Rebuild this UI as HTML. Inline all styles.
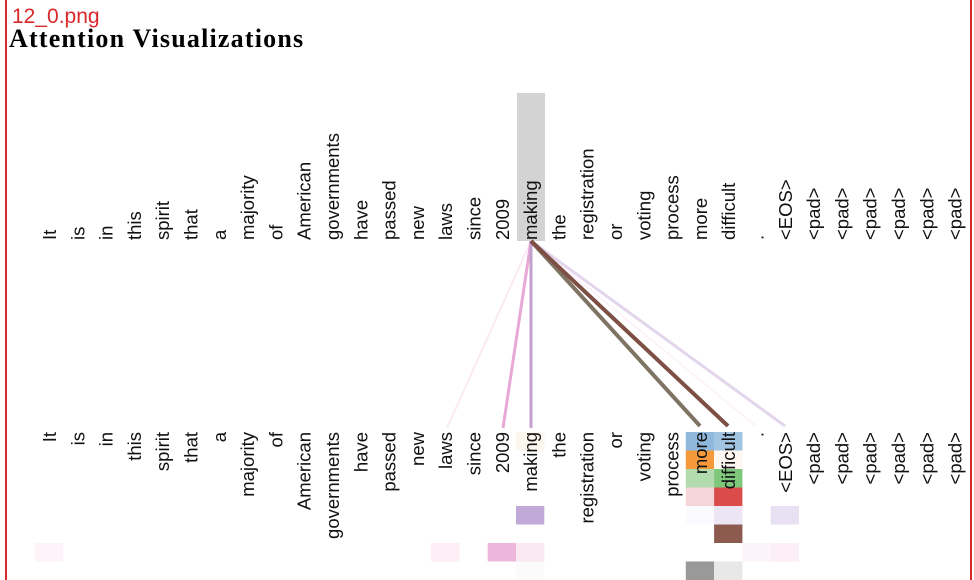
<!DOCTYPE html>
<html><head><meta charset="utf-8"><style>
html,body{margin:0;padding:0;background:#fff;width:974px;height:580px;overflow:hidden}
svg{display:block}
.t{font-family:"Liberation Sans",sans-serif;font-size:18.5px;fill:#111}
</style></head><body>
<svg width="974" height="580" viewBox="0 0 974 580">
<rect x="5" y="0" width="2" height="580" fill="#d8282a"/>
<rect x="970" y="0" width="2" height="580" fill="#d8282a"/>
<text x="12" y="23" font-family="Liberation Sans,sans-serif" font-size="21" fill="#d8282a">12_0.png</text>
<text x="9" y="47" font-family="Liberation Serif,serif" font-size="26" font-weight="bold" letter-spacing="1.2" fill="#000">Attention Visualizations</text>

<rect x="517" y="93" width="28" height="148" fill="#d3d3d3"/>

<g>
<rect x="516" y="432" width="28.3" height="18.5" fill="#fdf6ef"/>
<rect x="685.8" y="432" width="28.3" height="18.5" fill="#8fb8dc"/>
<rect x="714.1" y="432" width="28.3" height="18.5" fill="#a0c4e2"/>
<rect x="685.8" y="450.5" width="28.3" height="18.5" fill="#f5993a"/>
<rect x="714.1" y="450.5" width="28.3" height="18.5" fill="#fff8f2"/>
<rect x="685.8" y="469" width="28.3" height="18.5" fill="#b2dcae"/>
<rect x="714.1" y="469" width="28.3" height="18.5" fill="#7ec77b"/>
<rect x="685.8" y="487.5" width="28.3" height="18.5" fill="#f6d6d8"/>
<rect x="714.1" y="487.5" width="28.3" height="18.5" fill="#d94c4a"/>
<rect x="516" y="506" width="28.3" height="18.5" fill="#c1a9d8"/>
<rect x="685.8" y="506" width="28.3" height="18.5" fill="#fbfaff"/>
<rect x="714.1" y="506" width="28.3" height="18.5" fill="#ece6f4"/>
<rect x="770.7" y="506" width="28.3" height="18.5" fill="#e8e0f3"/>
<rect x="714.1" y="524.5" width="28.3" height="18.5" fill="#8c5a4e"/>
<rect x="34.9" y="543" width="28.3" height="18.5" fill="#fdf3f8"/>
<rect x="431" y="543" width="28.3" height="18.5" fill="#fceef4"/>
<rect x="487.7" y="543" width="28.3" height="18.5" fill="#edb7dc"/>
<rect x="516" y="543" width="28.3" height="18.5" fill="#fae8f2"/>
<rect x="742.4" y="543" width="28.3" height="18.5" fill="#fdf4fa"/>
<rect x="770.7" y="543" width="28.3" height="18.5" fill="#fbeef7"/>
<rect x="516" y="561.5" width="28.3" height="18.5" fill="#fcfbfc"/>
<rect x="685.8" y="561.5" width="28.3" height="18.5" fill="#999999"/>
<rect x="714.1" y="561.5" width="28.3" height="18.5" fill="#e8e8e8"/>
</g>

<g stroke-linecap="butt">
<line x1="531" y1="241" x2="447" y2="428" stroke="#fbeaf3" stroke-width="2"/>
<line x1="531" y1="241" x2="756" y2="426" stroke="#fcf3f8" stroke-width="2"/>
<line x1="531" y1="241" x2="785" y2="426" stroke="#e3d5ec" stroke-width="3"/>
<line x1="531" y1="241" x2="503" y2="428" stroke="#e7a8d6" stroke-width="3"/>
<line x1="531" y1="241" x2="531" y2="428" stroke="#c4a0cc" stroke-width="3"/>
<line x1="531" y1="241" x2="700" y2="426" stroke="#7f7463" stroke-width="4"/>
<line x1="531" y1="241" x2="728" y2="426" stroke="#7d4f45" stroke-width="4"/>
</g>

<g class="t">
<text transform="translate(56,240) rotate(-90)">It</text>
<text transform="translate(84.3,240) rotate(-90)">is</text>
<text transform="translate(112.6,240) rotate(-90)">in</text>
<text transform="translate(140.9,240) rotate(-90)">this</text>
<text transform="translate(169.2,240) rotate(-90)">spirit</text>
<text transform="translate(197.5,240) rotate(-90)">that</text>
<text transform="translate(225.8,240) rotate(-90)">a</text>
<text transform="translate(254.1,240) rotate(-90)">majority</text>
<text transform="translate(282.4,240) rotate(-90)">of</text>
<text transform="translate(310.7,240) rotate(-90)">American</text>
<text transform="translate(339,240) rotate(-90)">governments</text>
<text transform="translate(367.3,240) rotate(-90)">have</text>
<text transform="translate(395.6,240) rotate(-90)">passed</text>
<text transform="translate(423.9,240) rotate(-90)">new</text>
<text transform="translate(452.2,240) rotate(-90)">laws</text>
<text transform="translate(480.5,240) rotate(-90)">since</text>
<text transform="translate(508.8,240) rotate(-90)">2009</text>
<text transform="translate(537.1,240) rotate(-90)">making</text>
<text transform="translate(565.4,240) rotate(-90)">the</text>
<text transform="translate(593.7,240) rotate(-90)">registration</text>
<text transform="translate(622,240) rotate(-90)">or</text>
<text transform="translate(650.3,240) rotate(-90)">voting</text>
<text transform="translate(678.6,240) rotate(-90)">process</text>
<text transform="translate(706.9,240) rotate(-90)">more</text>
<text transform="translate(735.2,240) rotate(-90)">difficult</text>
<text transform="translate(763.5,240) rotate(-90)">.</text>
<text transform="translate(791.8,240) rotate(-90)">&lt;EOS&gt;</text>
<text transform="translate(820.1,240) rotate(-90)">&lt;pad&gt;</text>
<text transform="translate(848.4,240) rotate(-90)">&lt;pad&gt;</text>
<text transform="translate(876.7,240) rotate(-90)">&lt;pad&gt;</text>
<text transform="translate(905,240) rotate(-90)">&lt;pad&gt;</text>
<text transform="translate(933.3,240) rotate(-90)">&lt;pad&gt;</text>
<text transform="translate(961.6,240) rotate(-90)">&lt;pad&gt;</text>
</g>

<g class="t" text-anchor="end">
<text transform="translate(56,432) rotate(-90)">It</text>
<text transform="translate(84.3,432) rotate(-90)">is</text>
<text transform="translate(112.6,432) rotate(-90)">in</text>
<text transform="translate(140.9,432) rotate(-90)">this</text>
<text transform="translate(169.2,432) rotate(-90)">spirit</text>
<text transform="translate(197.5,432) rotate(-90)">that</text>
<text transform="translate(225.8,432) rotate(-90)">a</text>
<text transform="translate(254.1,432) rotate(-90)">majority</text>
<text transform="translate(282.4,432) rotate(-90)">of</text>
<text transform="translate(310.7,432) rotate(-90)">American</text>
<text transform="translate(339,432) rotate(-90)">governments</text>
<text transform="translate(367.3,432) rotate(-90)">have</text>
<text transform="translate(395.6,432) rotate(-90)">passed</text>
<text transform="translate(423.9,432) rotate(-90)">new</text>
<text transform="translate(452.2,432) rotate(-90)">laws</text>
<text transform="translate(480.5,432) rotate(-90)">since</text>
<text transform="translate(508.8,432) rotate(-90)">2009</text>
<text transform="translate(537.1,432) rotate(-90)">making</text>
<text transform="translate(565.4,432) rotate(-90)">the</text>
<text transform="translate(593.7,432) rotate(-90)">registration</text>
<text transform="translate(622,432) rotate(-90)">or</text>
<text transform="translate(650.3,432) rotate(-90)">voting</text>
<text transform="translate(678.6,432) rotate(-90)">process</text>
<text transform="translate(706.9,432) rotate(-90)">more</text>
<text transform="translate(735.2,432) rotate(-90)">difficult</text>
<text transform="translate(763.5,432) rotate(-90)">.</text>
<text transform="translate(791.8,432) rotate(-90)">&lt;EOS&gt;</text>
<text transform="translate(820.1,432) rotate(-90)">&lt;pad&gt;</text>
<text transform="translate(848.4,432) rotate(-90)">&lt;pad&gt;</text>
<text transform="translate(876.7,432) rotate(-90)">&lt;pad&gt;</text>
<text transform="translate(905,432) rotate(-90)">&lt;pad&gt;</text>
<text transform="translate(933.3,432) rotate(-90)">&lt;pad&gt;</text>
<text transform="translate(961.6,432) rotate(-90)">&lt;pad&gt;</text>
</g>
</svg>
</body></html>
